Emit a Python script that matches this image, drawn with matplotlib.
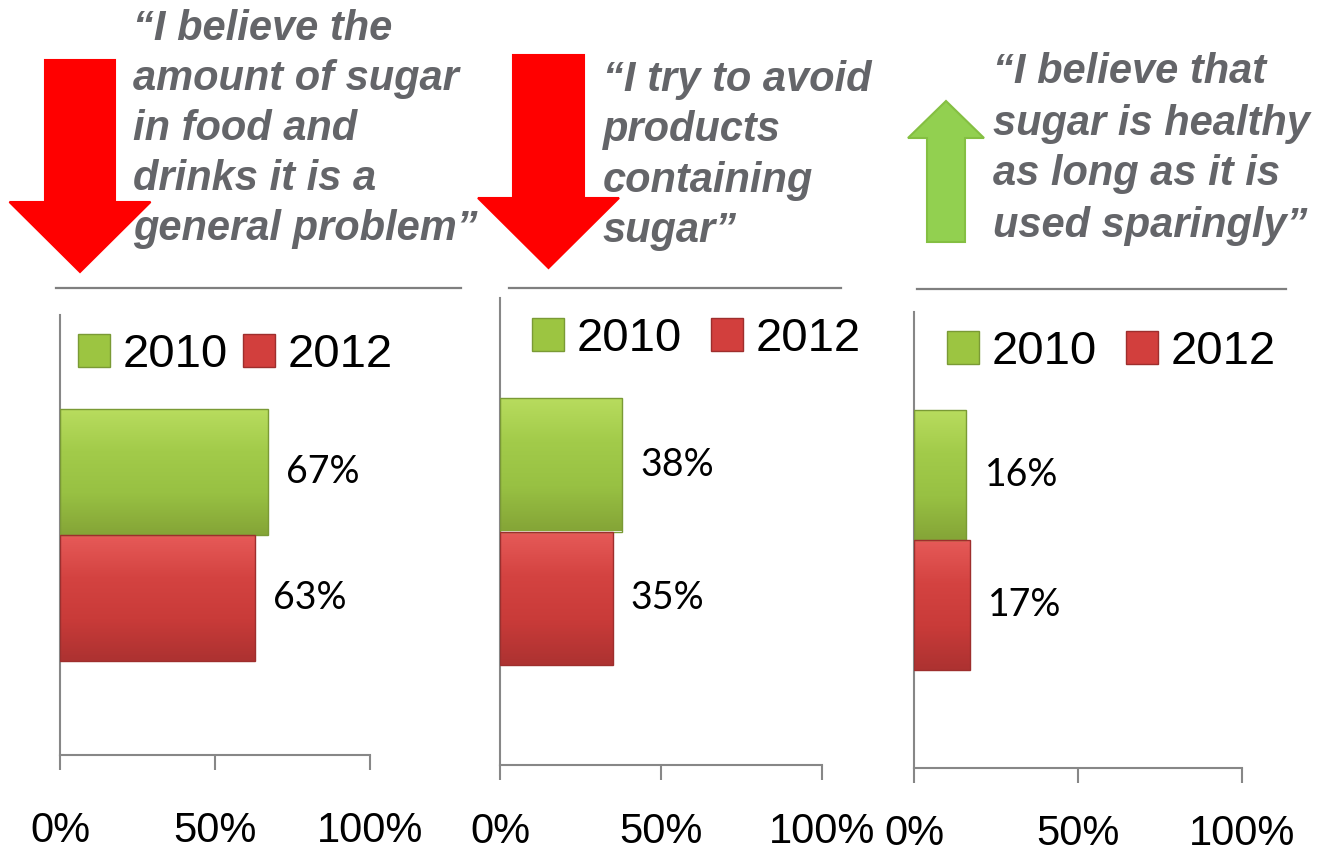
import numpy as np
import matplotlib.pyplot as plt
from matplotlib.patches import FancyArrow, Patch
from matplotlib.colors import LinearSegmentedColormap

years = ["2010", "2012"]
share_2010 = [67, 38, 16]
share_2012 = [63, 35, 17]
trend = ["down", "down", "up"]
quotes = [
    ["\u201cI believe the", "amount of sugar", "in food and", "drinks it is a", "general problem\u201d"],
    ["\u201cI try to avoid", "products", "containing", "sugar\u201d"],
    ["\u201cI believe that", "sugar is healthy", "as long as it is", "used sparingly\u201d"],
]
x_ticks = [0, 50, 100]
x_tick_labels = ["0%", "50%", "100%"]

W, H = 1324, 856
fig = plt.figure(figsize=(W / 100, H / 100), dpi=100)

# layout in pixels (y measured from the top)
axes_box = [(60, 315, 370, 755), (500, 298, 822, 765), (914, 312, 1242, 768)]
tick_pad = [29, 23, 22]
quote_x = [133, 603, 993]
quote_base = [[40, 90, 140, 190, 240], [91, 141, 192, 242], [83, 135, 185, 237]]
sep_lines = [(56, 461, 288), (509, 841, 288), (917, 1286, 289)]
legend_at = [(78, 355, 0.32), (532, 339, 0.62), (947, 352, 0.62)]
arrows = [
    dict(x=80, y0=60, y1=272, w=70, hw=141, hl=70),
    dict(x=548.5, y0=55, y1=268, w=71, hw=141, hl=70),
    dict(x=946, y0=242, y1=101, w=38, hw=76, hl=37),
]

green, red = "#9cc541", "#d23f3d"
green_cmap = LinearSegmentedColormap.from_list("g", ["#85a537", "#98c143", "#a2cb4a", "#b8dc5e"])
red_cmap = LinearSegmentedColormap.from_list("r", ["#ad3231", "#c93b39", "#d44341", "#e65a58"])
quote_color = "#646569"
axis_color = "#878787"

# decoration layer in pixel coordinates
deco = fig.add_axes([0, 0, 1, 1])
deco.set_xlim(0, W)
deco.set_ylim(H, 0)
deco.axis("off")

for a, t in zip(arrows, trend):
    fc, ec = ("#ff0000", "#ff0000") if t == "down" else ("#92d050", "#84bf42")
    deco.add_patch(FancyArrow(a["x"], a["y0"], 0, a["y1"] - a["y0"], width=a["w"],
                              head_width=a["hw"], head_length=a["hl"],
                              length_includes_head=True, fc=fc, ec=ec, lw=1.5))

for x, bases, lines in zip(quote_x, quote_base, quotes):
    for yb, line in zip(bases, lines):
        deco.text(x, yb, line, fontsize=30, family="Liberation Sans", weight="bold",
                  style="italic", color=quote_color, va="baseline", ha="left")

for x0, x1, y in sep_lines:
    deco.plot([x0, x1], [y, y], color="#7f7f7f", lw=1.6)


def gradient_bar(ax, rect, cmap):
    x, y = rect.get_x(), rect.get_y()
    w, h = rect.get_width(), rect.get_height()
    grad = np.linspace(0, 1, 64).reshape(-1, 1)
    im = ax.imshow(grad, cmap=cmap, extent=(x, x + w, y, y + h), origin="lower",
                   aspect="auto", zorder=2)
    im.set_clip_path(rect)


for i, (l, t, r, b) in enumerate(axes_box):
    ax = fig.add_axes([l / W, 1 - b / H, (r - l) / W, (b - t) / H])
    ax.set_facecolor("none")
    bars_2010 = ax.barh(1, share_2010[i], height=1.0, color=green, edgecolor="#7a9a35", lw=1, zorder=3)
    bars_2012 = ax.barh(0, share_2012[i], height=1.0, color=red, edgecolor="#9e2e2d", lw=1, zorder=3)
    for bars, cmap in ((bars_2010, green_cmap), (bars_2012, red_cmap)):
        for rect in bars:
            rect.set_facecolor("none")
            gradient_bar(ax, rect, cmap)
    for yv, v in ((1, share_2010[i]), (0, share_2012[i])):
        ax.annotate(f"{v}%", xy=(v, yv), xytext=(13, 0), textcoords="offset points",
                    va="center", ha="left", fontsize=27, family="Lato", color="black")
    ax.set_xlim(0, 100)
    ax.set_ylim(-1.25, 2.25)
    ax.set_xticks(x_ticks)
    ax.set_xticklabels(x_tick_labels, family="Liberation Sans", fontsize=30)
    ax.set_yticks([])
    ax.tick_params(axis="x", direction="out", length=11, width=1.5, color=axis_color,
                   pad=tick_pad[i])
    for s in ("top", "right"):
        ax.spines[s].set_visible(False)
    for s in ("left", "bottom"):
        ax.spines[s].set_color(axis_color)
        ax.spines[s].set_linewidth(1.5)

    lx, ly, cs = legend_at[i]
    handles = [Patch(facecolor=green, edgecolor="#7a9a35"), Patch(facecolor=red, edgecolor="#9e2e2d")]
    ax.legend(handles, years, loc="center left", bbox_to_anchor=(lx, ly),
              bbox_transform=deco.transData, ncol=2, frameon=False,
              prop=dict(family="Liberation Sans", size=34), handlelength=0.68,
              handleheight=0.68, handletextpad=0.26, columnspacing=cs,
              borderpad=0, borderaxespad=0)

fig.savefig("out.png", dpi=100, facecolor="white")
